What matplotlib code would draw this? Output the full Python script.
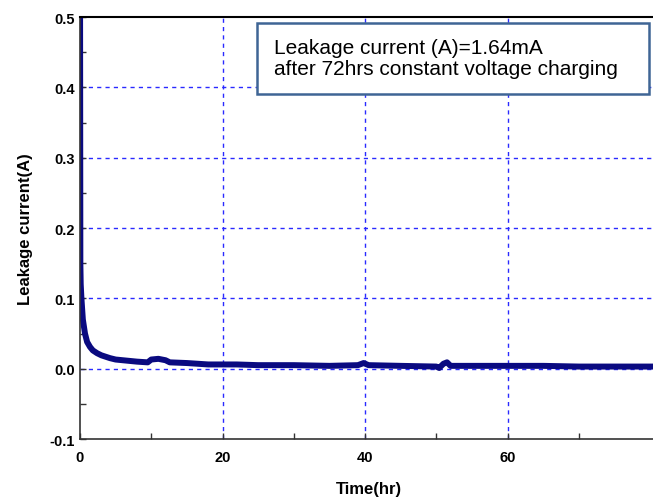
import matplotlib
matplotlib.use("Agg")
import matplotlib.pyplot as plt
from matplotlib.patches import Rectangle

# leakage current
time_hr = [0, 0.05, 0.1, 0.2, 0.4, 0.7, 1.0, 1.4, 1.8, 2.4, 3.0, 4.2, 5.0, 6.0,
           8.0, 9.5, 10.0, 11.0, 12.0, 12.6, 15.0, 18.0, 20.0, 22.0, 25.0, 30.0,
           35.0, 39.0, 39.8, 40.5, 45.0, 50.0, 50.4, 51.0, 51.5, 52.0, 55.0,
           60.0, 65.0, 70.0, 75.0, 81.0]
current_a = [0.60, 0.15, 0.12, 0.10, 0.07, 0.05, 0.038, 0.031, 0.026, 0.022,
             0.019, 0.015, 0.013, 0.012, 0.010, 0.009, 0.013, 0.014, 0.012,
             0.009, 0.008, 0.006, 0.006, 0.006, 0.005, 0.005, 0.004, 0.005,
             0.008, 0.005, 0.004, 0.003, 0.001, 0.007, 0.009, 0.004, 0.004,
             0.004, 0.004, 0.003, 0.003, 0.003]

x_ticks = [0, 20, 40, 60]
x_minor = [10, 30, 50, 70]
y_ticks = [-0.1, 0.0, 0.1, 0.2, 0.3, 0.4, 0.5]
y_minor = [-0.05, 0.05, 0.15, 0.25, 0.35, 0.45]
note = "Leakage current (A)=1.64mA\nafter 72hrs constant voltage charging"

plt.rcParams['font.family'] = ['Liberation Sans', 'DejaVu Sans']

fig = plt.figure(figsize=(6.53, 5.02), dpi=100)
ax = fig.add_axes([0.1225, 0.1235, 0.884, 0.8406])

ax.plot(time_hr, current_a, color="#0a0a80", lw=4.3, solid_joinstyle="round")

ax.set_xlim(0, 81)
ax.set_ylim(-0.1, 0.5)
ax.set_xticks(x_ticks)
ax.set_xticks(x_minor, minor=True)
ax.set_yticks(y_ticks)
ax.set_yticks(y_minor, minor=True)
ax.set_yticklabels([f"{v:.1f}" for v in y_ticks])
ax.tick_params(which="both", direction="in", length=4, width=1, colors="#333333",
               labelsize=10.5, labelcolor="black")
for lbl in ax.get_xticklabels() + ax.get_yticklabels():
    lbl.set_fontweight("bold")
ax.tick_params(axis="x", pad=8)

# dashed blue grid, interior lines only
for gx in [20, 40, 60]:
    ax.axvline(gx, color="#2a2aff", lw=1, ls=(0, (3, 3)), zorder=0)
for gy in [0.0, 0.1, 0.2, 0.3, 0.4]:
    ax.axhline(gy, color="#2a2aff", lw=1, ls=(0, (3, 3)), zorder=0)

for s in ["left", "bottom"]:
    ax.spines[s].set_color("#333333")
    ax.spines[s].set_linewidth(1.2)
ax.spines["top"].set_linewidth(1.5)
ax.spines["right"].set_visible(False)

ax.set_xlabel("Time(hr)", fontsize=12, fontweight="bold", labelpad=12)
ax.set_ylabel("Leakage current(A)", fontsize=12, fontweight="bold", labelpad=12)

ax.add_patch(Rectangle((24.8, 0.3906), 55.1, 0.1009, facecolor="white",
                       edgecolor="#3f6595", lw=1.8, zorder=5))
ax.text(27.2, 0.4418, note, fontsize=15, va="center", ha="left",
        linespacing=1.15, zorder=6)

fig.savefig("out.png", dpi=100)
